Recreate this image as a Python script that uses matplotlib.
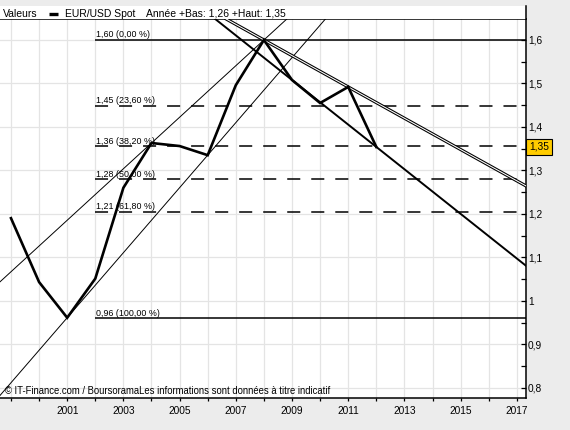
import matplotlib
matplotlib.use("Agg")
import matplotlib.pyplot as plt
from matplotlib.lines import Line2D
from matplotlib.patches import Rectangle
from matplotlib.ticker import FixedLocator, MultipleLocator, FuncFormatter

plt.rcParams['font.family'] = ['Liberation Sans', 'DejaVu Sans']
plt.rcParams['lines.scale_dashes'] = False

# ---------------- data ----------------
years = [1999, 2000, 2001, 2002, 2003, 2004, 2005, 2006, 2007, 2008, 2009, 2010, 2011, 2012]
values = [1.190, 1.043, 0.961, 1.051, 1.260, 1.363, 1.356, 1.335, 1.496, 1.600, 1.508, 1.455, 1.492, 1.354]

fib_levels = [1.600, 1.449, 1.356, 1.280, 1.205, 0.960]
fib_labels = ["1,60 (0,00 %)", "1,45 (23,60 %)", "1,36 (38,20 %)", "1,28 (50,00 %)",
              "1,21 (61,80 %)", "0,96 (100,00 %)"]
fib_solid = [True, False, False, False, False, True]
fib_start_year = 2002

# trend lines: pairs of anchor years taken from the data series
thin_trend_pairs = [(2004, 2008), (2001, 2006)]
thick_trend_pair = (2009, 2012)
double_trend_pair = (2008, 2011)

tick_years = list(range(1999, 2018))
label_years = [2001, 2003, 2005, 2007, 2009, 2011, 2013, 2015, 2017]

series_name = "EUR/USD Spot"
header_title = "Valeurs"
header_stats = "Année +Bas: 1,26 +Haut: 1,35"
last_value_label = "1,35"
watermark = "© IT-Finance.com / BoursoramaLes informations sont données à titre indicatif"

# ---------------- figure ----------------
W, H = 570, 430
fig = plt.figure(figsize=(W / 100, H / 100), dpi=100, facecolor='#ECECEC')

def fx(px):
    return px / W

def fy(py):
    return (H - py) / H

ax_left, ax_right, ax_top, ax_bottom = 0, 526, 19, 398
ax = fig.add_axes([fx(ax_left), fy(ax_bottom), fx(ax_right - ax_left), (ax_bottom - ax_top) / H])
ax.set_facecolor('white')

xmin, xmax = 1998.609, 2017.327
ymin, ymax = 0.7763, 1.6483
ax.set_xlim(xmin, xmax)
ax.set_ylim(ymin, ymax)

# header white band
fig.patches.append(Rectangle((fx(0), fy(ax_top)), fx(ax_right), (ax_top - 6) / H,
                             transform=fig.transFigure, fc='white', ec='none', zorder=0))
fig.lines.append(Line2D([fx(ax_right) - 0.3 / W, fx(ax_right) - 0.3 / W], [fy(6), fy(ax_top)],
                        transform=fig.transFigure, color='black', lw=1.1))

# spines
ax.spines['left'].set_visible(False)
for s in ('top', 'bottom', 'right'):
    ax.spines[s].set_linewidth(1.1)
    ax.spines[s].set_color('black')

# grid
ax.set_axisbelow(True)
ax.grid(True, which='major', color='#E4E4E4', lw=0.9)

# y axis on right
ax.yaxis.tick_right()
ax.yaxis.set_major_locator(MultipleLocator(0.1))
ax.yaxis.set_minor_locator(MultipleLocator(0.05))

def yfmt(v, pos):
    s = f"{v:.1f}"
    if s.endswith('.0'):
        s = s[:-2]
    return s.replace('.', ',')

ax.yaxis.set_major_formatter(FuncFormatter(yfmt))
ax.tick_params(axis='y', which='both', direction='in', length=3.5, width=0.9,
               labelsize=7.3, pad=1.5, right=True, left=False)

# x axis
ax.xaxis.set_major_locator(FixedLocator(tick_years))
ax.set_xticklabels([str(y) if y in label_years else '' for y in tick_years])
ax.tick_params(axis='x', which='both', direction='out', length=2.2, width=0.9,
               labelsize=7.3, pad=3.2)

# fibonacci levels
for lev, lab, solid in zip(fib_levels, fib_labels, fib_solid):
    if solid:
        ax.plot([fib_start_year, xmax], [lev, lev], color='black', lw=1.1,
                solid_capstyle='butt', zorder=2)
    else:
        ax.plot([fib_start_year, xmax], [lev, lev], color='black', lw=1.1,
                dashes=(9.4, 7.9), dash_capstyle='butt', zorder=2)
    ax.annotate(lab, xy=(fib_start_year, lev), xytext=(0.8, 1.8), textcoords='offset points',
                ha='left', va='baseline', fontsize=6.4, zorder=5)

# trend lines
val = dict(zip(years, values))
for a, b in thin_trend_pairs:
    ax.axline((a, val[a]), (b, val[b]), color='black', lw=0.7, zorder=3)
a, b = thick_trend_pair
ax.axline((a, val[a]), (b, val[b]), color='black', lw=1.4, zorder=3)
a, b = double_trend_pair
ax.axline((a, val[a]), (b, val[b]), color='black', lw=2.3, zorder=3)
ax.axline((a, val[a]), (b, val[b]), color='white', lw=0.75, zorder=3.1)

# data
ax.plot(years, values, color='black', lw=1.9, zorder=4, solid_joinstyle='miter')

# last value box
ax.annotate(last_value_label, xy=(1, values[-1]), xycoords=('axes fraction', 'data'),
            xytext=(2.2, 0), textcoords='offset points', ha='left', va='center',
            fontsize=7.3, annotation_clip=False,
            bbox=dict(boxstyle='square,pad=0.28', fc='#FFCC00', ec='black', lw=0.8))

# header
fig.text(fx(3), fy(17), header_title, fontsize=7.5, ha='left', va='baseline')
fig.lines.append(Line2D([fx(49), fx(58)], [fy(13.5), fy(13.5)], transform=fig.transFigure,
                        color='black', lw=2.4, solid_capstyle='butt'))
fig.text(fx(65), fy(17), series_name, fontsize=7.5, ha='left', va='baseline')
fig.text(fx(146), fy(17), header_stats, fontsize=7.5, ha='left', va='baseline')

# watermark
fig.text(fx(5), fy(394), watermark, fontsize=6.85, ha='left', va='baseline')

fig.savefig('out.png', dpi=100, facecolor=fig.get_facecolor())
